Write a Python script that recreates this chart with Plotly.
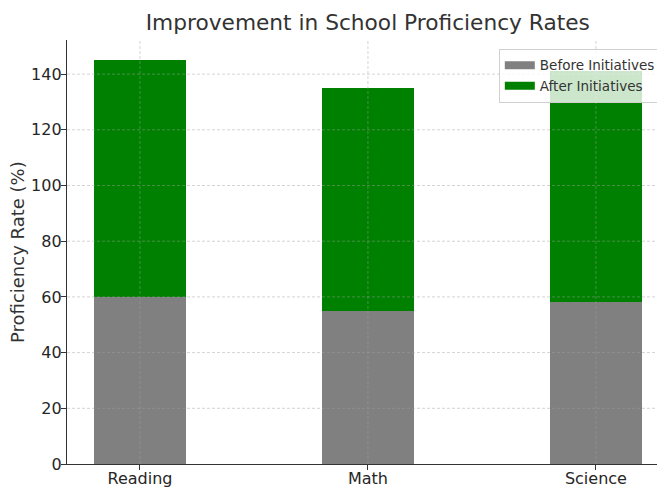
import plotly.graph_objects as go

categories = ["Reading", "Math", "Science"]
before = [60, 55, 58]
after = [85, 80, 83]
series_names = ["Before Initiatives", "After Initiatives"]
colors = ["#808080", "#008000"]
y_ticks = [0, 20, 40, 60, 80, 100, 120, 140]
x_pos = [0, 1, 2]

fig = go.Figure()
for vals, name, col in zip([before, after], series_names, colors):
    fig.add_trace(go.Bar(x=x_pos, y=vals, name=name, showlegend=False,
                         marker=dict(color=col, line=dict(width=0)), width=0.4))
# legend patches (wide rectangles like the reference)
for name, col in zip(series_names, colors):
    fig.add_trace(go.Scatter(x=[None], y=[None], mode="lines", name=name,
                             line=dict(color=col, width=8)))

grid_line = dict(color="rgba(160,160,160,0.5)", width=0.9, dash="3px,2px")
shapes = []
for t in y_ticks[1:]:
    shapes.append(dict(type="line", xref="paper", x0=0, x1=1, yref="y", y0=t, y1=t,
                       line=grid_line, layer="above"))
for p in x_pos:
    shapes.append(dict(type="line", xref="x", x0=p, x1=p, yref="paper", y0=0, y1=1,
                       line=grid_line, layer="above"))

font = "DejaVu Sans, sans-serif"
fig.update_layout(
    barmode="stack",
    width=657, height=483,
    margin=dict(l=59, r=0, t=32, b=27),
    paper_bgcolor="white", plot_bgcolor="white",
    font=dict(family=font, color="#262626", size=16),
    title=dict(text="Improvement in School Proficiency Rates", xref="paper", x=0.503,
               xanchor="center", yref="container", y=0.971, yanchor="middle",
               font=dict(size=21.7, color="#333333")),
    legend=dict(x=0.993, xanchor="right", y=0.979, yanchor="top",
                bgcolor="rgba(255,255,255,0.8)", bordercolor="#d0d0d0", borderwidth=1,
                font=dict(size=13.5, color="#333333"), tracegroupgap=0,
                traceorder="normal", itemwidth=30),
    xaxis=dict(range=[-0.32, 2.303], tickvals=x_pos, ticktext=categories,
               showline=True, linecolor="#333333", linewidth=1.3,
               ticks="outside", ticklen=5, tickcolor="#333333",
               showgrid=False, zeroline=False, automargin=False,
               ticklabelstandoff=-5),
    yaxis=dict(range=[0, 152.25], tickvals=y_ticks,
               showline=True, linecolor="#333333", linewidth=1.3,
               ticks="outside", ticklen=5, tickcolor="#333333",
               showgrid=False, zeroline=False, automargin=False,
               ticklabelstandoff=-4),
    shapes=shapes,
    annotations=[dict(text="Proficiency Rate (%)", xref="paper", yref="paper",
                      x=-0.0836, y=0.5, xanchor="center", yanchor="middle",
                      textangle=-90, showarrow=False,
                      font=dict(size=18, color="#333333"))],
)
fig.write_html("out.html")
